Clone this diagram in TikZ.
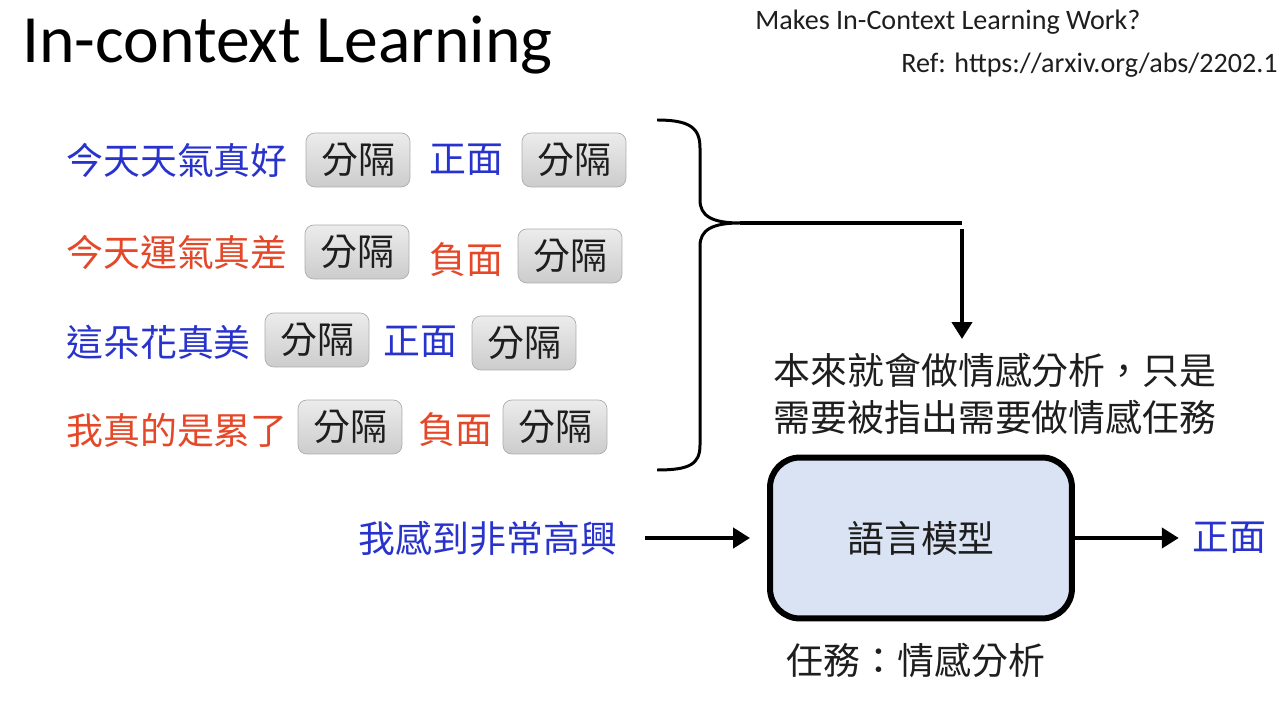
\documentclass[tikz,border=0pt]{standalone}
\usepackage{fontspec}
\setmainfont{Carlito}
\newfontfamily\cjk{Noto Sans CJK TC}
\usetikzlibrary{arrows.meta, positioning, calc}

\definecolor{posblue}{RGB}{40,50,205}
\definecolor{negred}{RGB}{228,72,40}
\definecolor{lmfill}{RGB}{218,227,243}
\definecolor{inktext}{RGB}{30,30,30}

\begin{document}
\begin{tikzpicture}[
    x=0.02cm, y=-0.02cm,
    zh/.style={font=\cjk\fontsize{21}{27}\selectfont, inner sep=0pt, text=inktext},
    postext/.style={zh, text=posblue},
    negtext/.style={zh, text=negred},
    sepbox/.style={zh, draw=gray!65, rounded corners=5pt, top color=gray!15, bottom color=gray!40, minimum width=2.08cm, minimum height=1.08cm},
    lmbox/.style={zh, draw=black, line width=3.4pt, rounded corners=0.6cm, fill=lmfill, minimum width=6.04cm, minimum height=3.22cm},
    conn/.style={-{Triangle[length=0.34cm, width=0.4cm]}, line width=2.6pt, black}
]

% White background fixes the page size
\path[fill=white] (0,0) rectangle (1278,702);

% ==================== TITLE AND REFERENCE ====================

\node[anchor=west, inner sep=0pt, font=\fontsize{38.5}{40}\selectfont] (title) at (22,45) {In-context Learning};
\node[anchor=west, inner sep=0pt, font=\fontsize{16}{18}\selectfont, text=inktext] (paper) at (755,22) {Makes In-Context Learning Work?};
\node[anchor=east, inner sep=0pt, font=\fontsize{16}{18}\selectfont, text=inktext] (ref) at (1278,65) {Ref: https://arxiv.org/abs/2202.1};

% ==================== DEMONSTRATIONS ====================

% Row 1
\node[postext, anchor=west] (s1) at (66,160) {今天天氣真好};
\node[sepbox] (s1a) at (358,160) {分隔};
\node[postext] (l1) at (466,160) {正面};
\node[sepbox] (s1b) at (574,160) {分隔};

% Row 2
\node[negtext, anchor=west] (s2) at (66,252) {今天運氣真差};
\node[sepbox] (s2a) at (357,252) {分隔};
\node[negtext] (l2) at (466,260) {負面};
\node[sepbox] (s2b) at (570,256) {分隔};

% Row 3
\node[postext, anchor=west] (s3) at (66,342) {這朵花真美};
\node[sepbox] (s3a) at (317,340) {分隔};
\node[postext] (l3) at (420,342) {正面};
\node[sepbox] (s3b) at (524,343) {分隔};

% Row 4
\node[negtext, anchor=west] (s4) at (66,430) {我真的是累了};
\node[sepbox] (s4a) at (350,427) {分隔};
\node[negtext] (l4) at (455,430) {負面};
\node[sepbox] (s4b) at (555,427) {分隔};

% Brace round the examples
\coordinate (tip) at (740,223);
\draw[line width=1.7pt] (657,120) .. controls (690,120) and (700,128) .. (700,148) -- (700,200)
    .. controls (700,216) and (712,223) .. (tip)
    .. controls (712,223) and (700,230) .. (700,246) -- (700,445)
    .. controls (700,464) and (690,470) .. (657,470);

% Brace to the note
\coordinate (corner) at (962,223);
\coordinate (turn) at (962,229);
\coordinate (drop) at (962,339);
\draw[line width=2.6pt] (tip) -- (corner);
\draw[conn] (turn) -- (drop);

\node[zh, align=left] (note) at (995,394) {本來就會做情感分析，只是\\需要被指出需要做情感任務};

% ==================== LANGUAGE MODEL ====================

\node[lmbox] (lm) at (921,538) {語言模型};
\node[postext] (query) at (488,538) {我感到非常高興};
\node[postext] (answer) at (1229,538) {正面};
\node[zh] (task) at (916,660) {任務：情感分析};

\draw[conn, shorten <=0.56cm, shorten >=0.34cm] (query) -- (lm);
\draw[conn, shorten >=0.26cm] (lm) -- (answer);

\end{tikzpicture}
\end{document}
